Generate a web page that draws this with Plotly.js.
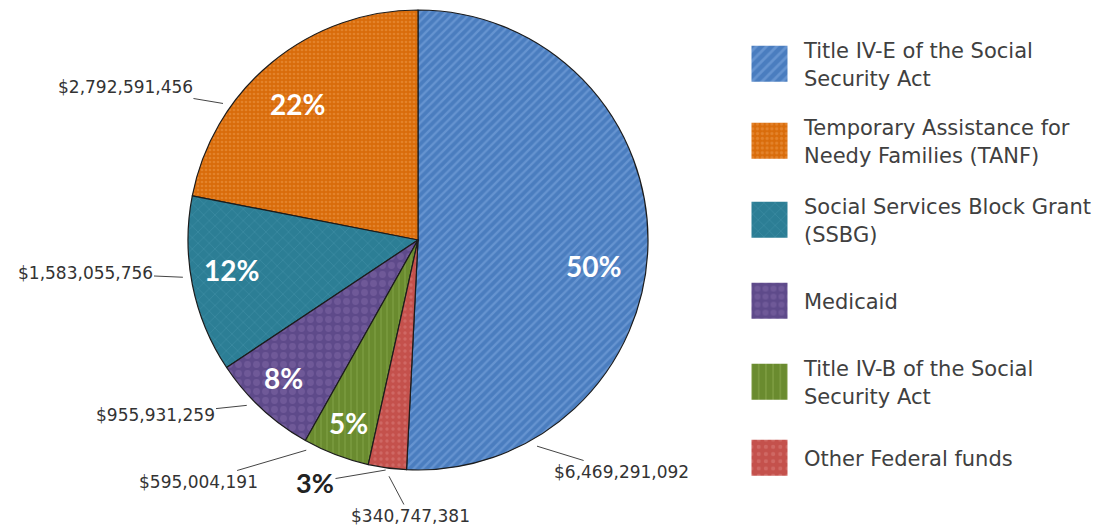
<!DOCTYPE html>
<html><head><meta charset="utf-8">
<script src="https://cdn.plot.ly/plotly-3.0.1.min.js"></script>
<style>html,body{margin:0;padding:0;background:#fff;} #chart{width:1101px;height:528px;}</style>
</head><body><div id="chart"></div>
<script>
// ---------------- data ----------------
const categories = [
  'Title IV-E of the Social<br>Security Act',
  'Temporary Assistance for<br>Needy Families (TANF)',
  'Social Services Block Grant<br>(SSBG)',
  'Medicaid',
  'Title IV-B of the Social<br>Security Act',
  'Other Federal funds'
];
const amounts = [6469291092, 2792591456, 1583055756, 955931259, 595004191, 340747381];
const percentLabels = ['50%', '22%', '12%', '8%', '5%', '3%'];

// ---------------- styles ----------------
const colors = ['#4A7DBF', '#D96C0B', '#2C7E95', '#5E4A8A', '#6A8B2F', '#C4514C'];
const patternFg = ['#82ABE2', '#EE9A4C', '#4E9CB2', '#8068A6', '#93B256', '#D9807B'];
const patternShapes = ['/', '.', 'x', '.', '|', '.'];
const patternSizes = [6, 4, 8, 9, 6, 6];
const patternSolidity = [0.38, 0.35, 0.15, 0.45, 0.2, 0.25];

// ---------------- layout geometry ----------------
const W = 1101, H = 528, CX = 418, CY = 240, R = 230;
const pieDomain = {x: [(CX - R) / W, (CX + R) / W], y: [1 - (CY + R) / H, 1 - (CY - R) / H]};
const insideLabel = [true, true, true, true, true, false];
const insideRadius = [0.77, 0.79, 0.82, 0.84, 0.85, 0];   // fraction of radius
const insideAngleShift = [7, -2, 2, 1.5, 0, 0];            // degrees from slice middle
// outside labels: leader tip angle (deg clockwise from top) and text centre (px)
const valueTipAngle = [150, 305, 261, 226, 208, 187];
const valueTextPos = [[621, 472], [125, 87], [85, 273], [155, 415], [198, 482], [410, 516]];
const pctOutTipAngle = 188, pctOutPos = [315, 482];
const legendY = [64, 141, 220, 301, 382, 458];
const legendX = 735;

// ---------------- helpers ----------------
const total = amounts.reduce((a, b) => a + b, 0);
const sweep = amounts.map(v => v / total * 360);
// plotly counterclockwise from 12 o'clock: slice0 on [0, s0], then going counterclockwise
const midAngle = [];
let acc = 0;
sweep.forEach((s, i) => {
  if (i === 0) { midAngle.push(s / 2); }
  else { midAngle.push(-(acc + s / 2)); acc += s; }
});
function polar(deg, rf) {
  const a = deg * Math.PI / 180;
  return [CX + rf * R * Math.sin(a), CY - rf * R * Math.cos(a)];
}
const toPaper = p => [p[0] / W, 1 - p[1] / H];
const fmt = v => '$' + v.toLocaleString('en-US');

const annotations = [];
percentLabels.forEach((t, i) => {
  if (insideLabel[i]) {
    const p = toPaper(polar(midAngle[i] + insideAngleShift[i], insideRadius[i]));
    annotations.push({xref: 'paper', yref: 'paper', x: p[0], y: p[1], xanchor: 'center', yanchor: 'middle',
      text: t, showarrow: false,
      font: {family: 'Lato', size: 28, color: '#ffffff', weight: 'bold'}});
  } else {
    const tipPx = polar(pctOutTipAngle, 1.01);
    const p = toPaper(tipPx);
    annotations.push({xref: 'paper', yref: 'paper', x: p[0], y: p[1], text: t, showarrow: true,
      ax: pctOutPos[0] - tipPx[0], ay: pctOutPos[1] - tipPx[1], arrowhead: 0, arrowwidth: 1,
      arrowcolor: '#444', standoff: 0,
      font: {family: 'Lato', size: 27, color: '#222222', weight: 'bold'}});
  }
});
amounts.forEach((v, i) => {
  const tipPx = polar(valueTipAngle[i], 1.035);
  const p = toPaper(tipPx);
  annotations.push({xref: 'paper', yref: 'paper', x: p[0], y: p[1], text: fmt(v), showarrow: true,
    ax: valueTextPos[i][0] - tipPx[0], ay: valueTextPos[i][1] - tipPx[1], arrowhead: 0,
    arrowwidth: 1, arrowcolor: '#444', standoff: 0,
    font: {family: 'DejaVu Sans', size: 17, color: '#333333'}});
});

const pie = {
  type: 'pie', labels: categories, values: amounts, sort: false,
  direction: 'counterclockwise', rotation: 0, domain: pieDomain,
  textinfo: 'none', hoverinfo: 'skip', showlegend: false,
  marker: {colors: colors,
    pattern: {shape: patternShapes, fgcolor: patternFg, bgcolor: colors, size: patternSizes,
      solidity: patternSolidity, fillmode: 'overlay'},
    line: {color: '#1c1c1c', width: 1.2}}
};
// legend entries (one legend per category so spacing can match the original)
const legendTraces = categories.map((c, i) => ({
  type: 'bar', x: [null], y: [null], name: c, showlegend: true, hoverinfo: 'skip',
  legend: i === 0 ? 'legend' : 'legend' + (i + 1),
  marker: {color: colors[i], line: {width: 0},
    pattern: {shape: patternShapes[i], fgcolor: patternFg[i], bgcolor: colors[i],
      size: patternSizes[i] * 1.5, solidity: patternSolidity[i], fillmode: 'overlay'}}
}));

const layout = {
  width: W, height: H, margin: {l: 0, r: 0, t: 0, b: 0},
  paper_bgcolor: '#ffffff', plot_bgcolor: 'rgba(0,0,0,0)',
  xaxis: {visible: false}, yaxis: {visible: false},
  hovermode: false, annotations: annotations
};
legendY.forEach((yc, i) => {
  layout[i === 0 ? 'legend' : 'legend' + (i + 1)] = {
    x: legendX / W, xanchor: 'left', y: 1 - yc / H, yanchor: 'middle',
    itemwidth: 59, bgcolor: 'rgba(0,0,0,0)', borderwidth: 0,
    itemclick: false, itemdoubleclick: false,
    font: {family: 'DejaVu Sans', size: 21, color: '#404040'}
  };
});

const gd = document.getElementById('chart');
function bigSwatches() {
  gd.querySelectorAll('.legendpoints path').forEach(p => p.setAttribute('d', 'M18,18H-18V-18H18Z'));
}
Plotly.newPlot(gd, [pie].concat(legendTraces), layout, {displayModeBar: false, staticPlot: true}).then(() => {
  bigSwatches();
  gd.on && gd.on('plotly_afterplot', bigSwatches);
});
</script>
</body></html>
